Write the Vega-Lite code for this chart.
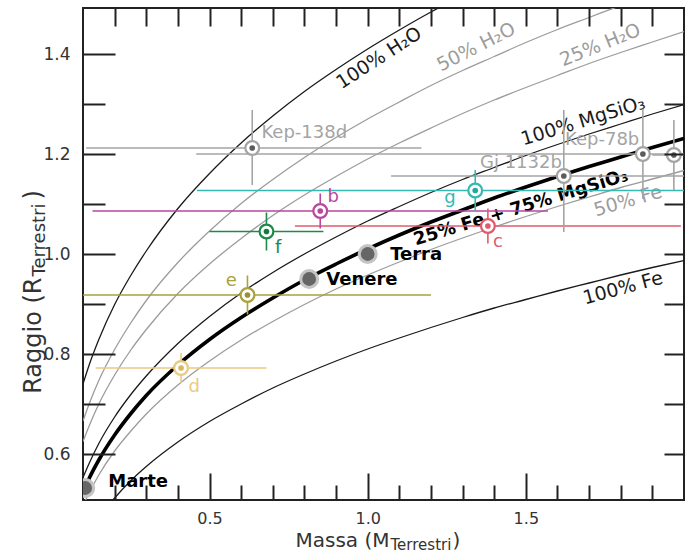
{
  "$schema": "https://vega.github.io/schema/vega-lite/v6.json",
  "width": 601,
  "height": 492,
  "autosize": {"type": "none"},
  "padding": {"left": 83, "top": 8, "right": 7, "bottom": 53},
  "background": "white",
  "config": {
    "view": {"stroke": "#222", "strokeWidth": 2},
    "axis": {"grid": false, "domain": false, "labelFont": "DejaVu Sans", "titleFont": "DejaVu Sans", "titleFontWeight": "normal", "titleColor": "#333", "labelColor": "#333", "tickColor": "#222", "tickWidth": 2},
    "text": {"font": "DejaVu Sans"}
  },
  "datasets": {
    "curves": [
      {"curve": "H2O100", "m": 0.1, "r": 0.740}, {"curve": "H2O100", "m": 0.12, "r": 0.779}, {"curve": "H2O100", "m": 0.15, "r": 0.829}, {"curve": "H2O100", "m": 0.2, "r": 0.899}, {"curve": "H2O100", "m": 0.25, "r": 0.956}, {"curve": "H2O100", "m": 0.3, "r": 1.006}, {"curve": "H2O100", "m": 0.4, "r": 1.091}, {"curve": "H2O100", "m": 0.5, "r": 1.161}, {"curve": "H2O100", "m": 0.6, "r": 1.222}, {"curve": "H2O100", "m": 0.7, "r": 1.276}, {"curve": "H2O100", "m": 0.8, "r": 1.325}, {"curve": "H2O100", "m": 0.9, "r": 1.369}, {"curve": "H2O100", "m": 1.0, "r": 1.41}, {"curve": "H2O100", "m": 1.1, "r": 1.448}, {"curve": "H2O100", "m": 1.2, "r": 1.484}, {"curve": "H2O100", "m": 1.3, "r": 1.517},
      {"curve": "H2O50", "m": 0.1, "r": 0.666}, {"curve": "H2O50", "m": 0.12, "r": 0.701}, {"curve": "H2O50", "m": 0.15, "r": 0.747}, {"curve": "H2O50", "m": 0.2, "r": 0.809}, {"curve": "H2O50", "m": 0.25, "r": 0.861}, {"curve": "H2O50", "m": 0.3, "r": 0.907}, {"curve": "H2O50", "m": 0.4, "r": 0.983}, {"curve": "H2O50", "m": 0.5, "r": 1.046}, {"curve": "H2O50", "m": 0.6, "r": 1.101}, {"curve": "H2O50", "m": 0.7, "r": 1.149}, {"curve": "H2O50", "m": 0.8, "r": 1.193}, {"curve": "H2O50", "m": 0.9, "r": 1.233}, {"curve": "H2O50", "m": 1.0, "r": 1.27}, {"curve": "H2O50", "m": 1.1, "r": 1.304}, {"curve": "H2O50", "m": 1.2, "r": 1.337}, {"curve": "H2O50", "m": 1.3, "r": 1.367}, {"curve": "H2O50", "m": 1.4, "r": 1.395}, {"curve": "H2O50", "m": 1.5, "r": 1.423}, {"curve": "H2O50", "m": 1.6, "r": 1.449}, {"curve": "H2O50", "m": 1.7, "r": 1.473}, {"curve": "H2O50", "m": 1.8, "r": 1.497}, {"curve": "H2O50", "m": 1.9, "r": 1.520},
      {"curve": "H2O25", "m": 0.1, "r": 0.625}, {"curve": "H2O25", "m": 0.12, "r": 0.657}, {"curve": "H2O25", "m": 0.15, "r": 0.700}, {"curve": "H2O25", "m": 0.2, "r": 0.758}, {"curve": "H2O25", "m": 0.25, "r": 0.807}, {"curve": "H2O25", "m": 0.3, "r": 0.849}, {"curve": "H2O25", "m": 0.4, "r": 0.921}, {"curve": "H2O25", "m": 0.5, "r": 0.980}, {"curve": "H2O25", "m": 0.6, "r": 1.031}, {"curve": "H2O25", "m": 0.7, "r": 1.077}, {"curve": "H2O25", "m": 0.8, "r": 1.118}, {"curve": "H2O25", "m": 0.9, "r": 1.155}, {"curve": "H2O25", "m": 1.0, "r": 1.19}, {"curve": "H2O25", "m": 1.1, "r": 1.222}, {"curve": "H2O25", "m": 1.2, "r": 1.252}, {"curve": "H2O25", "m": 1.3, "r": 1.281}, {"curve": "H2O25", "m": 1.4, "r": 1.308}, {"curve": "H2O25", "m": 1.5, "r": 1.333}, {"curve": "H2O25", "m": 1.6, "r": 1.357}, {"curve": "H2O25", "m": 1.7, "r": 1.381}, {"curve": "H2O25", "m": 1.8, "r": 1.403}, {"curve": "H2O25", "m": 1.9, "r": 1.424}, {"curve": "H2O25", "m": 2.0, "r": 1.445},
      {"curve": "MgSiO3", "m": 0.1, "r": 0.553}, {"curve": "MgSiO3", "m": 0.12, "r": 0.582}, {"curve": "MgSiO3", "m": 0.15, "r": 0.621}, {"curve": "MgSiO3", "m": 0.2, "r": 0.674}, {"curve": "MgSiO3", "m": 0.25, "r": 0.718}, {"curve": "MgSiO3", "m": 0.3, "r": 0.756}, {"curve": "MgSiO3", "m": 0.4, "r": 0.821}, {"curve": "MgSiO3", "m": 0.5, "r": 0.875}, {"curve": "MgSiO3", "m": 0.6, "r": 0.922}, {"curve": "MgSiO3", "m": 0.7, "r": 0.963}, {"curve": "MgSiO3", "m": 0.8, "r": 1.000}, {"curve": "MgSiO3", "m": 0.9, "r": 1.034}, {"curve": "MgSiO3", "m": 1.0, "r": 1.066}, {"curve": "MgSiO3", "m": 1.1, "r": 1.095}, {"curve": "MgSiO3", "m": 1.2, "r": 1.123}, {"curve": "MgSiO3", "m": 1.3, "r": 1.149}, {"curve": "MgSiO3", "m": 1.4, "r": 1.173}, {"curve": "MgSiO3", "m": 1.5, "r": 1.197}, {"curve": "MgSiO3", "m": 1.6, "r": 1.219}, {"curve": "MgSiO3", "m": 1.7, "r": 1.240}, {"curve": "MgSiO3", "m": 1.8, "r": 1.260}, {"curve": "MgSiO3", "m": 1.9, "r": 1.280}, {"curve": "MgSiO3", "m": 2.0, "r": 1.299},
      {"curve": "Earth", "m": 0.1, "r": 0.524}, {"curve": "Earth", "m": 0.12, "r": 0.552}, {"curve": "Earth", "m": 0.15, "r": 0.588}, {"curve": "Earth", "m": 0.2, "r": 0.638}, {"curve": "Earth", "m": 0.25, "r": 0.680}, {"curve": "Earth", "m": 0.3, "r": 0.717}, {"curve": "Earth", "m": 0.4, "r": 0.778}, {"curve": "Earth", "m": 0.5, "r": 0.829}, {"curve": "Earth", "m": 0.6, "r": 0.873}, {"curve": "Earth", "m": 0.7, "r": 0.912}, {"curve": "Earth", "m": 0.8, "r": 0.948}, {"curve": "Earth", "m": 0.9, "r": 0.980}, {"curve": "Earth", "m": 1.0, "r": 1.010}, {"curve": "Earth", "m": 1.1, "r": 1.038}, {"curve": "Earth", "m": 1.2, "r": 1.064}, {"curve": "Earth", "m": 1.3, "r": 1.088}, {"curve": "Earth", "m": 1.4, "r": 1.112}, {"curve": "Earth", "m": 1.5, "r": 1.134}, {"curve": "Earth", "m": 1.6, "r": 1.155}, {"curve": "Earth", "m": 1.7, "r": 1.175}, {"curve": "Earth", "m": 1.8, "r": 1.194}, {"curve": "Earth", "m": 1.9, "r": 1.213}, {"curve": "Earth", "m": 2.0, "r": 1.231},
      {"curve": "Fe50", "m": 0.1, "r": 0.497}, {"curve": "Fe50", "m": 0.12, "r": 0.523}, {"curve": "Fe50", "m": 0.15, "r": 0.558}, {"curve": "Fe50", "m": 0.2, "r": 0.606}, {"curve": "Fe50", "m": 0.25, "r": 0.645}, {"curve": "Fe50", "m": 0.3, "r": 0.680}, {"curve": "Fe50", "m": 0.4, "r": 0.738}, {"curve": "Fe50", "m": 0.5, "r": 0.786}, {"curve": "Fe50", "m": 0.6, "r": 0.828}, {"curve": "Fe50", "m": 0.7, "r": 0.865}, {"curve": "Fe50", "m": 0.8, "r": 0.899}, {"curve": "Fe50", "m": 0.9, "r": 0.930}, {"curve": "Fe50", "m": 1.0, "r": 0.958}, {"curve": "Fe50", "m": 1.1, "r": 0.984}, {"curve": "Fe50", "m": 1.2, "r": 1.009}, {"curve": "Fe50", "m": 1.3, "r": 1.032}, {"curve": "Fe50", "m": 1.4, "r": 1.054}, {"curve": "Fe50", "m": 1.5, "r": 1.075}, {"curve": "Fe50", "m": 1.6, "r": 1.095}, {"curve": "Fe50", "m": 1.7, "r": 1.114}, {"curve": "Fe50", "m": 1.8, "r": 1.133}, {"curve": "Fe50", "m": 1.9, "r": 1.150}, {"curve": "Fe50", "m": 2.0, "r": 1.167},
      {"curve": "Fe100", "m": 0.18, "r": 0.497}, {"curve": "Fe100", "m": 0.2, "r": 0.512}, {"curve": "Fe100", "m": 0.25, "r": 0.546}, {"curve": "Fe100", "m": 0.3, "r": 0.575}, {"curve": "Fe100", "m": 0.4, "r": 0.624}, {"curve": "Fe100", "m": 0.5, "r": 0.665}, {"curve": "Fe100", "m": 0.6, "r": 0.700}, {"curve": "Fe100", "m": 0.7, "r": 0.732}, {"curve": "Fe100", "m": 0.8, "r": 0.760}, {"curve": "Fe100", "m": 0.9, "r": 0.786}, {"curve": "Fe100", "m": 1.0, "r": 0.810}, {"curve": "Fe100", "m": 1.1, "r": 0.832}, {"curve": "Fe100", "m": 1.2, "r": 0.853}, {"curve": "Fe100", "m": 1.3, "r": 0.873}, {"curve": "Fe100", "m": 1.4, "r": 0.892}, {"curve": "Fe100", "m": 1.5, "r": 0.909}, {"curve": "Fe100", "m": 1.6, "r": 0.926}, {"curve": "Fe100", "m": 1.7, "r": 0.942}, {"curve": "Fe100", "m": 1.8, "r": 0.958}, {"curve": "Fe100", "m": 1.9, "r": 0.973}, {"curve": "Fe100", "m": 2.0, "r": 0.987}
    ],
    "planets": [
      {"name": "b", "m": 0.85, "r": 1.086, "mlo": 0.13, "mhi": 1.57, "rlo": 1.051, "rhi": 1.121},
      {"name": "c", "m": 1.38, "r": 1.056, "mlo": 0.77, "mhi": 1.99, "rlo": 1.021, "rhi": 1.091},
      {"name": "d", "m": 0.41, "r": 0.772, "mlo": 0.14, "mhi": 0.68, "rlo": 0.742, "rhi": 0.802},
      {"name": "e", "m": 0.62, "r": 0.918, "mlo": 0.04, "mhi": 1.2, "rlo": 0.879, "rhi": 0.957},
      {"name": "f", "m": 0.68, "r": 1.045, "mlo": 0.5, "mhi": 0.86, "rlo": 1.007, "rhi": 1.083},
      {"name": "g", "m": 1.34, "r": 1.127, "mlo": 0.46, "mhi": 2.22, "rlo": 1.086, "rhi": 1.168},
      {"name": "Kep-138d", "m": 0.635, "r": 1.212, "mlo": 0.11, "mhi": 1.17, "rlo": 1.138, "rhi": 1.288},
      {"name": "Kep-78b", "m": 1.87, "r": 1.2, "mlo": 0.458, "mhi": 2.1, "rlo": 1.11, "rhi": 1.29},
      {"name": "Gj 1132b", "m": 1.62, "r": 1.156, "mlo": 1.074, "mhi": 2.17, "rlo": 1.044, "rhi": 1.288},
      {"name": "X", "m": 1.968, "r": 1.198, "mlo": 1.9, "mhi": 2.1, "rlo": 1.128, "rhi": 1.268}
    ],
    "letters": [
      {"name": "b", "t": "b", "m": 0.891, "r": 1.114},
      {"name": "c", "t": "c", "m": 1.412, "r": 1.024},
      {"name": "d", "t": "d", "m": 0.452, "r": 0.734},
      {"name": "e", "t": "e", "m": 0.569, "r": 0.946},
      {"name": "f", "t": "f", "m": 0.717, "r": 1.012},
      {"name": "g", "t": "g", "m": 1.26, "r": 1.112}
    ],
    "others": [
      {"t": "Kep-138d", "m": 0.664, "r": 1.242},
      {"t": "Kep-78b", "m": 1.624, "r": 1.228},
      {"t": "Gj 1132b", "m": 1.355, "r": 1.182}
    ],
    "solar": [
      {"t": "Terra", "m": 1.0, "r": 1.0, "lm": 1.071, "lr": 0.998},
      {"t": "Venere", "m": 0.815, "r": 0.95, "lm": 0.869, "lr": 0.948},
      {"t": "Marte", "m": 0.107, "r": 0.532, "lm": 0.18, "lr": 0.544}
    ],
    "clabels": [
      {"id": "H2O100", "t": "100% H₂O", "m": 1.036, "r": 1.392},
      {"id": "H2O50", "t": "50% H₂O", "m": 1.343, "r": 1.414},
      {"id": "H2O25", "t": "25% H₂O", "m": 1.735, "r": 1.418},
      {"id": "MgSiO3", "t": "100% MgSiO₃", "m": 1.681, "r": 1.266},
      {"id": "Earth", "t": "25% Fe + 75% MgSiO₃", "m": 1.485, "r": 1.092},
      {"id": "Fe50", "t": "50% Fe", "m": 1.823, "r": 1.106},
      {"id": "Fe100", "t": "100% Fe", "m": 1.807, "r": 0.932}
    ]
  },
  "layer": [
    {
      "data": {"name": "curves"},
      "transform": [{"filter": "datum.curve === 'H2O50' || datum.curve === 'H2O25' || datum.curve === 'Fe50'"}],
      "mark": {"type": "line", "clip": true, "color": "#9c9c9c", "strokeWidth": 1.3, "interpolate": "monotone"},
      "encoding": {
        "x": {"field": "m", "type": "quantitative", "scale": {"domain": [0.1, 2.0], "nice": false, "zero": false},
              "axis": {"orient": "bottom", "values": [0.5, 1.0, 1.5], "format": ".1f", "ticks": true, "tickSize": 27, "offset": -27, "zindex": 2, "labelFontSize": 16, "labelPadding": 10,
                       "title": "Massa (M", "titleFontSize": 20, "titleAlign": "right", "titleBaseline": "alphabetic", "titleX": 306, "titleY": 73, "titleAngle": 0}},
        "y": {"field": "r", "type": "quantitative", "scale": {"domain": [0.508, 1.492], "nice": false, "zero": false},
              "axis": {"orient": "left", "values": [0.6, 0.8, 1.0, 1.2, 1.4], "format": ".1f", "ticks": true, "tickSize": 32, "offset": -32, "zindex": 2, "labelFontSize": 17, "labelPadding": 13,
                       "title": "Raggio (R", "titleFontSize": 24, "titleAngle": 270, "titleAlign": "right", "titleBaseline": "alphabetic", "titleX": -75, "titleY": 269}},
        "detail": {"field": "curve"}
      }
    },
    {
      "data": {"name": "curves"},
      "transform": [{"filter": "datum.curve === 'H2O100' || datum.curve === 'MgSiO3' || datum.curve === 'Fe100'"}],
      "mark": {"type": "line", "clip": true, "color": "#1a1a1a", "strokeWidth": 1.3, "interpolate": "monotone"},
      "encoding": {
        "x": {"field": "m", "type": "quantitative", "scale": {"domain": [0.1, 2.0], "nice": false, "zero": false},
              "axis": {"orient": "bottom", "values": [0.2, 0.3, 0.4, 0.6, 0.7, 0.8, 0.9, 1.1, 1.2, 1.3, 1.4, 1.6, 1.7, 1.8, 1.9], "labels": false, "ticks": true, "tickSize": 15, "offset": -15, "zindex": 2,
                       "title": "Terrestri", "titleFontSize": 15, "titleAlign": "left", "titleBaseline": "alphabetic", "titleX": 307, "titleY": 64, "titleAngle": 0}},
        "y": {"field": "r", "type": "quantitative", "scale": {"domain": [0.508, 1.492], "nice": false, "zero": false},
              "axis": {"orient": "left", "values": [0.7, 0.9, 1.1, 1.3], "labels": false, "ticks": true, "tickSize": 22, "offset": -22, "zindex": 2,
                       "title": "Terrestri", "titleFontSize": 18, "titleAngle": 270, "titleAlign": "left", "titleBaseline": "alphabetic", "titleX": -61, "titleY": 268}},
        "detail": {"field": "curve"}
      }
    },
    {
      "data": {"name": "curves"},
      "transform": [{"filter": "datum.curve === 'Earth'"}],
      "mark": {"type": "line", "clip": true, "color": "#000000", "strokeWidth": 3.6, "interpolate": "monotone"},
      "encoding": {
        "x": {"field": "m", "type": "quantitative", "scale": {"domain": [0.1, 2.0], "nice": false, "zero": false},
              "axis": {"orient": "top", "values": [0.2, 0.3, 0.4, 0.5, 0.6, 0.7, 0.8, 0.9, 1.0, 1.1, 1.2, 1.3, 1.4, 1.5, 1.6, 1.7, 1.8, 1.9], "labels": false, "ticks": true, "tickSize": -18, "zindex": 2,
                       "title": ")", "titleFontSize": 20, "titleAlign": "left", "titleBaseline": "alphabetic", "titleX": 369, "titleY": 538, "titleAngle": 0}},
        "y": {"field": "r", "type": "quantitative", "scale": {"domain": [0.508, 1.492], "nice": false, "zero": false},
              "axis": {"orient": "right", "values": [0.6, 0.7, 0.8, 0.9, 1.0, 1.1, 1.2, 1.3, 1.4], "labels": false, "ticks": true, "tickSize": 20, "offset": -20, "zindex": 2,
                       "title": ")", "titleFontSize": 24, "titleAngle": 270, "titleAlign": "left", "titleBaseline": "alphabetic", "titleX": -624, "titleY": 191}}
      }
    },
    {
      "data": {"name": "solar"},
      "mark": {"type": "point", "shape": "circle", "clip": true, "filled": true, "size": 400, "color": "#c4c4c4", "opacity": 1},
      "encoding": {
        "x": {"field": "m", "type": "quantitative", "scale": {"domain": [0.1, 2.0], "nice": false, "zero": false}, "axis": null},
        "y": {"field": "r", "type": "quantitative", "scale": {"domain": [0.508, 1.492], "nice": false, "zero": false}, "axis": null}
      }
    },
    {
      "data": {"name": "solar"},
      "mark": {"type": "point", "shape": "circle", "clip": true, "filled": true, "size": 190, "color": "#666666", "opacity": 1},
      "encoding": {
        "x": {"field": "m", "type": "quantitative", "scale": {"domain": [0.1, 2.0], "nice": false, "zero": false}, "axis": null},
        "y": {"field": "r", "type": "quantitative", "scale": {"domain": [0.508, 1.492], "nice": false, "zero": false}, "axis": null}
      }
    },
    {
      "data": {"name": "solar"},
      "mark": {"type": "text", "align": "left", "baseline": "middle", "fontSize": 18, "fontWeight": "bold", "color": "#000"},
      "encoding": {
        "x": {"field": "lm", "type": "quantitative", "scale": {"domain": [0.1, 2.0], "nice": false, "zero": false}, "axis": null},
        "y": {"field": "lr", "type": "quantitative", "scale": {"domain": [0.508, 1.492], "nice": false, "zero": false}, "axis": null},
        "text": {"field": "t"}
      }
    },
    {
      "data": {"name": "others"},
      "mark": {"type": "text", "align": "left", "baseline": "middle", "fontSize": 18, "color": "#a4a4a4"},
      "encoding": {
        "x": {"field": "m", "type": "quantitative", "scale": {"domain": [0.1, 2.0], "nice": false, "zero": false}, "axis": null},
        "y": {"field": "r", "type": "quantitative", "scale": {"domain": [0.508, 1.492], "nice": false, "zero": false}, "axis": null},
        "text": {"field": "t"}
      }
    },
    {
      "data": {"name": "clabels"},
      "transform": [{"filter": "datum.id === 'H2O100'"}],
      "mark": {"type": "text", "align": "center", "baseline": "middle", "fontSize": 19, "angle": 327, "color": "#1a1a1a"},
      "encoding": {
        "x": {"field": "m", "type": "quantitative", "scale": {"domain": [0.1, 2.0], "nice": false, "zero": false}, "axis": null},
        "y": {"field": "r", "type": "quantitative", "scale": {"domain": [0.508, 1.492], "nice": false, "zero": false}, "axis": null},
        "text": {"field": "t"}
      }
    },
    {
      "data": {"name": "clabels"},
      "transform": [{"filter": "datum.id === 'H2O50'"}],
      "mark": {"type": "text", "align": "center", "baseline": "middle", "fontSize": 19, "angle": 333, "color": "#9c9c9c"},
      "encoding": {
        "x": {"field": "m", "type": "quantitative", "scale": {"domain": [0.1, 2.0], "nice": false, "zero": false}, "axis": null},
        "y": {"field": "r", "type": "quantitative", "scale": {"domain": [0.508, 1.492], "nice": false, "zero": false}, "axis": null},
        "text": {"field": "t"}
      }
    },
    {
      "data": {"name": "clabels"},
      "transform": [{"filter": "datum.id === 'H2O25'"}],
      "mark": {"type": "text", "align": "center", "baseline": "middle", "fontSize": 19, "angle": 338, "color": "#9c9c9c"},
      "encoding": {
        "x": {"field": "m", "type": "quantitative", "scale": {"domain": [0.1, 2.0], "nice": false, "zero": false}, "axis": null},
        "y": {"field": "r", "type": "quantitative", "scale": {"domain": [0.508, 1.492], "nice": false, "zero": false}, "axis": null},
        "text": {"field": "t"}
      }
    },
    {
      "data": {"name": "clabels"},
      "transform": [{"filter": "datum.id === 'MgSiO3'"}],
      "mark": {"type": "text", "align": "center", "baseline": "middle", "fontSize": 19, "angle": 343, "color": "#1a1a1a"},
      "encoding": {
        "x": {"field": "m", "type": "quantitative", "scale": {"domain": [0.1, 2.0], "nice": false, "zero": false}, "axis": null},
        "y": {"field": "r", "type": "quantitative", "scale": {"domain": [0.508, 1.492], "nice": false, "zero": false}, "axis": null},
        "text": {"field": "t"}
      }
    },
    {
      "data": {"name": "clabels"},
      "transform": [{"filter": "datum.id === 'Earth'"}],
      "mark": {"type": "text", "align": "center", "baseline": "middle", "fontSize": 18, "fontWeight": "bold", "angle": 343, "color": "#000"},
      "encoding": {
        "x": {"field": "m", "type": "quantitative", "scale": {"domain": [0.1, 2.0], "nice": false, "zero": false}, "axis": null},
        "y": {"field": "r", "type": "quantitative", "scale": {"domain": [0.508, 1.492], "nice": false, "zero": false}, "axis": null},
        "text": {"field": "t"}
      }
    },
    {
      "data": {"name": "clabels"},
      "transform": [{"filter": "datum.id === 'Fe50'"}],
      "mark": {"type": "text", "align": "center", "baseline": "middle", "fontSize": 19, "angle": 344, "color": "#9c9c9c"},
      "encoding": {
        "x": {"field": "m", "type": "quantitative", "scale": {"domain": [0.1, 2.0], "nice": false, "zero": false}, "axis": null},
        "y": {"field": "r", "type": "quantitative", "scale": {"domain": [0.508, 1.492], "nice": false, "zero": false}, "axis": null},
        "text": {"field": "t"}
      }
    },
    {
      "data": {"name": "clabels"},
      "transform": [{"filter": "datum.id === 'Fe100'"}],
      "mark": {"type": "text", "align": "center", "baseline": "middle", "fontSize": 19, "angle": 345, "color": "#1a1a1a"},
      "encoding": {
        "x": {"field": "m", "type": "quantitative", "scale": {"domain": [0.1, 2.0], "nice": false, "zero": false}, "axis": null},
        "y": {"field": "r", "type": "quantitative", "scale": {"domain": [0.508, 1.492], "nice": false, "zero": false}, "axis": null},
        "text": {"field": "t"}
      }
    },
    {
      "data": {"name": "planets"},
      "mark": {"type": "rule", "clip": true, "strokeWidth": 1.6},
      "encoding": {
        "x": {"field": "mlo", "type": "quantitative", "scale": {"domain": [0.1, 2.0], "nice": false, "zero": false}, "axis": null},
        "x2": {"field": "mhi"},
        "y": {"field": "r", "type": "quantitative", "scale": {"domain": [0.508, 1.492], "nice": false, "zero": false}, "axis": null},
        "color": {"field": "name", "type": "nominal", "legend": null,
                  "scale": {"domain": ["b", "c", "d", "e", "f", "g", "Kep-138d", "Kep-78b", "Gj 1132b", "X"],
                            "range": ["#b8479e", "#e05a6c", "#e8cb80", "#a9a13c", "#1b8a4a", "#35b9b2", "#a4a4a4", "#a4a4a4", "#a4a4a4", "#a4a4a4"]}}
      }
    },
    {
      "data": {"name": "planets"},
      "mark": {"type": "rule", "clip": true, "strokeWidth": 1.6},
      "encoding": {
        "x": {"field": "m", "type": "quantitative", "scale": {"domain": [0.1, 2.0], "nice": false, "zero": false}, "axis": null},
        "y": {"field": "rlo", "type": "quantitative", "scale": {"domain": [0.508, 1.492], "nice": false, "zero": false}, "axis": null},
        "y2": {"field": "rhi"},
        "color": {"field": "name", "type": "nominal", "legend": null,
                  "scale": {"domain": ["b", "c", "d", "e", "f", "g", "Kep-138d", "Kep-78b", "Gj 1132b", "X"],
                            "range": ["#b8479e", "#e05a6c", "#e8cb80", "#a9a13c", "#1b8a4a", "#35b9b2", "#a4a4a4", "#a4a4a4", "#a4a4a4", "#a4a4a4"]}}
      }
    },
    {
      "data": {"name": "planets"},
      "mark": {"type": "point", "shape": "circle", "clip": true, "filled": false, "fill": "white", "fillOpacity": 1, "strokeWidth": 2.2, "size": 190, "opacity": 1},
      "encoding": {
        "x": {"field": "m", "type": "quantitative", "scale": {"domain": [0.1, 2.0], "nice": false, "zero": false}, "axis": null},
        "y": {"field": "r", "type": "quantitative", "scale": {"domain": [0.508, 1.492], "nice": false, "zero": false}, "axis": null},
        "stroke": {"field": "name", "type": "nominal", "legend": null,
                  "scale": {"domain": ["b", "c", "d", "e", "f", "g", "Kep-138d", "Kep-78b", "Gj 1132b", "X"],
                            "range": ["#b8479e", "#e05a6c", "#e8cb80", "#a9a13c", "#1b8a4a", "#35b9b2", "#a4a4a4", "#a4a4a4", "#a4a4a4", "#a4a4a4"]}}
      }
    },
    {
      "data": {"name": "planets"},
      "mark": {"type": "point", "shape": "circle", "clip": true, "filled": true, "size": 32, "opacity": 1, "strokeWidth": 0},
      "encoding": {
        "x": {"field": "m", "type": "quantitative", "scale": {"domain": [0.1, 2.0], "nice": false, "zero": false}, "axis": null},
        "y": {"field": "r", "type": "quantitative", "scale": {"domain": [0.508, 1.492], "nice": false, "zero": false}, "axis": null},
        "fill": {"field": "name", "type": "nominal", "legend": null,
                  "scale": {"domain": ["b", "c", "d", "e", "f", "g", "Kep-138d", "Kep-78b", "Gj 1132b", "X"],
                            "range": ["#b8479e", "#e05a6c", "#d9b864", "#9a9230", "#157a3e", "#22a9a2", "#5c5c5c", "#5c5c5c", "#5c5c5c", "#5c5c5c"]}}
      }
    },
    {
      "data": {"name": "letters"},
      "mark": {"type": "text", "align": "center", "baseline": "middle", "fontSize": 18},
      "encoding": {
        "x": {"field": "m", "type": "quantitative", "scale": {"domain": [0.1, 2.0], "nice": false, "zero": false}, "axis": null},
        "y": {"field": "r", "type": "quantitative", "scale": {"domain": [0.508, 1.492], "nice": false, "zero": false}, "axis": null},
        "text": {"field": "t"},
        "color": {"field": "name", "type": "nominal", "legend": null,
                  "scale": {"domain": ["b", "c", "d", "e", "f", "g", "Kep-138d", "Kep-78b", "Gj 1132b", "X"],
                            "range": ["#b8479e", "#e05a6c", "#e8cb80", "#a9a13c", "#1b8a4a", "#35b9b2", "#a4a4a4", "#a4a4a4", "#a4a4a4", "#a4a4a4"]}}
      }
    }
  ],
  "resolve": {
    "axis": {"x": "independent", "y": "independent"}
  }
}
